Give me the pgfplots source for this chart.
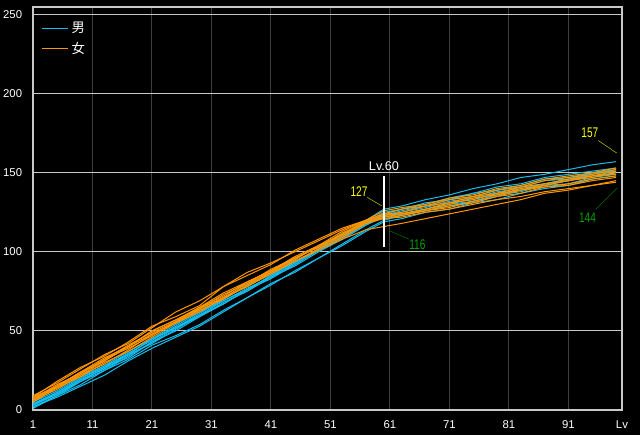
\documentclass[border=0pt]{standalone}
\usepackage{pgfplots}
\pgfplotsset{compat=1.18}
\usepackage{pgfplotstable}
\usepackage{fontspec}
\setmainfont{Liberation Sans}
\newfontfamily\cjk{Noto Sans CJK JP}
\definecolor{otoko}{RGB}{20,190,240}
\definecolor{onna}{RGB}{255,150,0}
\definecolor{waku}{RGB}{200,200,200}
\definecolor{tate}{RGB}{60,60,60}
\definecolor{kiiro}{RGB}{255,255,0}
\definecolor{kiirosen}{RGB}{190,190,0}
\definecolor{midori}{RGB}{0,160,0}
\definecolor{midorisen}{RGB}{0,110,0}

% male growth curves
\pgfplotstableread{
lv  m1  m2  m3  m4  m5  m6  m7  m8  m9
1   3   2   3   4   2   5   4   1   3
5   10  8   10  11  9   12  10  9   11
9   19  15  18  20  16  21  19  18  20
13  26  22  27  27  25  28  26  25  28
17  35  31  33  36  32  37  35  34  35
21  45  39  43  44  41  45  42  43  45
25  52  46  50  53  47  54  51  52  52
29  61  53  59  62  54  63  60  59  60
33  70  62  68  69  63  70  67  67  69
37  79  71  75  76  71  79  76  76  77
41  86  79  84  85  80  86  83  85  84
45  95  88  91  94  87  93  92  92  93
49  104 96  100 101 96  102 101 101 102
53  111 105 108 110 104 111 108 109 109
57  120 114 117 119 113 118 117 118 118
60  127 120 123 125 119 124 122 124 122
63  129 123 126 127 121 125 123 127 124
67  133 126 129 131 125 128 126 130 127
71  136 130 133 133 127 132 129 134 131
75  140 132 135 137 131 134 132 137 133
79  143 136 139 139 133 138 136 141 137
83  147 139 142 141 137 140 138 143 141
87  149 143 146 145 140 143 142 147 143
91  152 145 147 146 142 145 143 149 146
95  155 149 150 150 146 148 147 151 149
99  157 151 152 151 148 150 149 153 152
}\otokotab

% female growth curves
\pgfplotstableread{
lv  f1  f2  f3  f4  f5  f6  f7  f8  f9
1   9   6   8   7   6   8   5   7   6
5   17  15  15  16  13  18  14  14  15
9   26  22  24  23  22  27  21  23  24
13  35  31  31  32  29  34  30  32  33
17  42  40  40  41  38  43  37  39  40
21  52  48  50  49  48  53  46  47  50
25  62  55  57  56  55  59  55  56  57
29  69  64  64  65  64  66  62  63  65
33  78  71  73  74  71  78  71  70  72
37  85  78  80  81  80  87  78  79  81
41  92  87  89  88  87  93  86  88  88
45  101 94  96  95  96  100 94  97  96
49  108 101 103 104 103 107 102 104 103
53  115 108 112 111 110 114 109 113 111
57  120 114 119 120 119 120 118 120 118
60  121 116 123 124 123 124 121 126 122
63  122 118 125 127 124 124 123 128 124
67  125 121 129 129 127 126 126 130 127
71  127 124 131 133 131 129 128 134 130
75  130 127 135 135 133 131 132 136 134
79  133 130 137 139 137 135 135 140 136
83  135 133 141 141 139 137 139 142 140
87  138 137 143 145 142 141 141 146 142
91  140 139 146 147 145 142 143 148 145
95  142 142 148 149 147 145 146 150 148
99  145 144 151 152 150 147 148 153 149
}\onnatab

\begin{document}
\begin{tikzpicture}
\fill[black] (0,0) rectangle (480pt,326.25pt);
\begin{axis}[
  at={(24.75pt,18.75pt)}, anchor=south west,
  scale only axis, width=441.75pt, height=301.9pt,
  xmin=1, xmax=100, ymin=0, ymax=254.5,
  xtick={1,11,21,31,41,51,61,71,81,91,100},
  xticklabels={1,11,21,31,41,51,61,71,81,91,Lv},
  ytick={0,50,100,150,200,250},
  yticklabels={0,50,100,150,200,250},
  grid=major,
  grid style={tate, line width=0.75pt},
  major y grid style={waku},
  axis line style={waku, line width=1.5pt},
  major tick length=0pt,
  tick style={draw=none},
  ticklabel style={white, font=\fontsize{8.5}{10}\selectfont, inner sep=0pt},
  xticklabel style={anchor=north, yshift=-8pt},
  yticklabel style={anchor=east, xshift=-8pt},
  axis background/.style={fill=black},
  legend style={at={(axis description cs:0,1)}, anchor=north west,
    xshift=3pt, yshift=-7pt, draw=none, fill=none, text=white,
    font=\cjk\fontsize{10}{12}\selectfont, row sep=1.5pt},
  legend image code/.code={\draw[#1] (0pt,0pt) -- (20pt,0pt);},
  legend cell align=left,
]
\addlegendimage{otoko, line width=0.75pt}
\addlegendentry{男}
\addlegendimage{onna, line width=0.75pt}
\addlegendentry{女}
\pgfplotsinvokeforeach{1,...,9}{
  \addplot[otoko, line width=0.75pt, forget plot] table[x=lv, y=m#1]{\otokotab};
}
\pgfplotsinvokeforeach{1,...,9}{
  \addplot[onna, line width=0.75pt, forget plot] table[x=lv, y=f#1]{\onnatab};
}
% Lv.60 marker and min/max notes
\draw[white, line width=0.9pt] (axis cs:60,103) -- (axis cs:60,148);
\node[white, font=\fontsize{9.5}{10}\selectfont] at (axis cs:60,154) {Lv.60};
\node[kiiro] at (axis cs:55.8,138.2) {\scalebox{0.72}[1]{\fontsize{10.5}{11}\selectfont 127}};
\draw[kiirosen] (axis cs:57.2,134.4) -- (axis cs:59.6,129.1);
\node[midori] at (axis cs:65.6,104.4) {\scalebox{0.72}[1]{\fontsize{10.5}{11}\selectfont 116}};
\draw[midorisen] (axis cs:60.9,113.3) -- (axis cs:64.2,108);
\node[kiiro] at (axis cs:94.6,175.5) {\scalebox{0.72}[1]{\fontsize{10.5}{11}\selectfont 157}};
\draw[kiirosen] (axis cs:96,170.4) -- (axis cs:99.1,162.5);
\node[midori] at (axis cs:94.2,121.3) {\scalebox{0.72}[1]{\fontsize{10.5}{11}\selectfont 144}};
\draw[midorisen] (axis cs:95.6,127) -- (axis cs:99.2,140.3);
\end{axis}
\pgfresetboundingbox
\path (0,0) rectangle (480pt,326.25pt);
\end{tikzpicture}
\end{document}
